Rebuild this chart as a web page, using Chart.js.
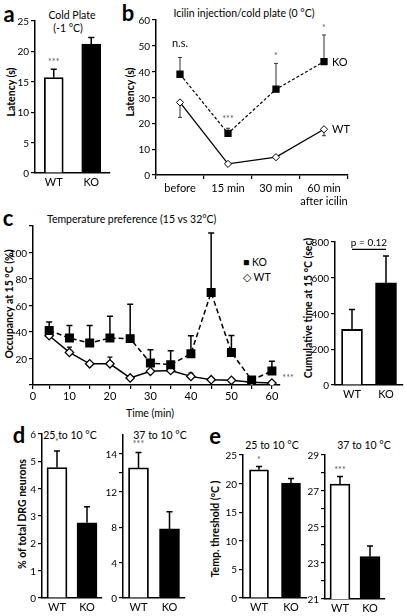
<!DOCTYPE html>
<html>
<head>
<meta charset="utf-8">
<script src="https://cdn.jsdelivr.net/npm/chart.js@4.4.0/dist/chart.umd.min.js"></script>
<style>
  html, body { margin: 0; padding: 0; background: #fff; }
  #fig { position: relative; width: 407px; height: 616px; overflow: hidden; font-family: Lato, "Open Sans", sans-serif; color: #000; }
  #fig canvas { position: absolute; }
  .t { position: absolute; transform: translate(-50%, -50%); white-space: nowrap; font-size: 10.5px; line-height: 1; }
  .left { transform: translate(0, -50%); }
  .rot { transform: translate(-50%, -50%) rotate(-90deg); font-weight: bold; font-size: 10.5px; }
  .letter { font-size: 22px; font-weight: bold; }
  .tick { position: absolute; transform: translate(-100%, -50%); white-space: nowrap; font-size: 10px; line-height: 1; }
</style>
</head>
<body>
<div id="fig"></div>
<script>
const groups = ["WT", "KO"];

// a: cold plate (-1 °C), latency (s)
const coldPlate = [15.7, 21.2];
const coldPlateErr = [1.35, 1.1];

// b: icilin injection / cold plate (0 °C), latency (s)
const icilinTimes = ["before", "15 min", "30 min", ["60 min", "after icilin"]];
const icilinKO = [39, 16.1, 33.2, 43.9];
const icilinKOErr = [6.5, 2, 10, 10.3];
const icilinWT = [28.1, 4.3, 6.9, 17.7];
const icilinWTErr = [5.8, 0, 0, 2.5];

// c: temperature preference (15 vs 32 °C), occupancy at 15 °C (%)
const prefTimes = [5, 10, 15, 20, 25, 30, 35, 40, 45, 50, 55, 60];
const prefKO = [41.2, 35.4, 31.7, 35.4, 35, 16.6, 15.3, 23.6, 69.8, 24.6, 3.8, 10.5];
const prefKOErr = [6.3, 9.6, 13.3, 16.4, 26, 10, 10.6, 13.6, 45, 12.8, 0, 7.5];
const prefWT = [37.2, 24.6, 16, 16, 5.3, 10.3, 11, 6.5, 4, 3.5, 2, 1.5];
const prefWTErr = [0, 4, 0, 5, 0, 0, 1.8, 2.5, 0, 0, 0, 0];
const cumTime = [311, 571];
const cumTimeErr = [111, 151];

// d: % of total DRG neurons
const drg25 = [4.77, 2.75];
const drg25Err = [0.61, 0.59];
const drg37 = [13.26, 7.8];
const drg37Err = [0.81, 1.95];

// e: temperature threshold (°C)
const thr25 = [22.4, 20.05];
const thr25Err = [0.6, 0.85];
const thr37 = [27.39, 23.35];
const thr37Err = [0.41, 0.59];

const FONT = "Lato, 'Open Sans', sans-serif";
const fig = document.getElementById("fig");

// panel letters, titles, axis titles, legend of c
const texts = [
  ["a", 9, 14, "letter"],
  ["Cold Plate", 72, 15, ""],
  ["(-1 °C)", 68, 28, ""],
  ["Latency (s)", 11, 92, "rot"],
  ["b", 128, 13, "letter"],
  ["Icilin injection/cold plate (0 °C)", 244, 13, ""],
  ["Latency (s)", 130, 92, "rot"],
  ["c", 8, 218, "letter"],
  ["Temperature preference (15 vs 32°C)", 47, 219, "left"],
  ["Occupancy at 15 °C (%)", 9, 304, "rot"],
  ["Time (min)", 150, 413, ""],
  ["Cumulative time at 15 °C (sec)", 308, 308, "rot"],
  ["■ KO", 243, 262, "left"],
  ["◇ WT", 243, 277, "left"],
  ["d", 19, 435, "letter"],
  ["25 to 10 °C", 70, 435, ""],
  ["37 to 10 °C", 160, 435, ""],
  ["% of total DRG neurons", 22, 514, "rot"],
  ["e", 215, 436, "letter"],
  ["25 to 10 °C", 272, 445, ""],
  ["37 to 10 °C", 364, 445, ""],
  ["Temp. threshold (°C )", 215, 529, "rot"],
];
texts.forEach(([text, x, y, cls]) => {
  const el = document.createElement("div");
  el.className = "t " + cls;
  el.textContent = text;
  el.style.left = x + "px";
  el.style.top = y + "px";
  fig.appendChild(el);
});

// y axis of panel d (right) is stretched above 12
class BrokenScale extends Chart.LinearScale {
  toDecimal(v) {
    const { breakAt, lowerShare } = this.options;
    if (v <= breakAt) return ((v - this.min) / (breakAt - this.min)) * lowerShare;
    return lowerShare + ((v - breakAt) / (this.max - breakAt)) * (1 - lowerShare);
  }
  getPixelForValue(v) {
    return v === null ? NaN : this.getPixelForDecimal(this.toDecimal(v));
  }
  getValueForPixel(p) {
    const d = this.getDecimalForPixel(p);
    const { breakAt, lowerShare } = this.options;
    return d <= lowerShare
      ? this.min + (d / lowerShare) * (breakAt - this.min)
      : breakAt + ((d - lowerShare) / (1 - lowerShare)) * (this.max - breakAt);
  }
}
BrokenScale.id = "broken";
BrokenScale.defaults = { ...Chart.LinearScale.defaults };
Chart.register(BrokenScale);

// error bars, drawn under the marks
const errorBars = {
  id: "errorBars",
  beforeDatasetsDraw(chart, args, opts) {
    const ctx = chart.ctx;
    const y = chart.scales.y;
    ctx.save();
    (opts.sets || []).forEach((set) => {
      const meta = chart.getDatasetMeta(set.dataset);
      const values = chart.data.datasets[set.dataset].data;
      meta.data.forEach((el, i) => {
        const v = values[i];
        const e = set.err[i];
        if (!e) return;
        const end = y.getPixelForValue(set.down ? v - e : v + e);
        ctx.strokeStyle = set.color || "#000";
        ctx.lineWidth = set.width || 1.5;
        ctx.beginPath();
        ctx.moveTo(el.x, el.y);
        ctx.lineTo(el.x, end);
        ctx.moveTo(el.x - set.cap, end);
        ctx.lineTo(el.x + set.cap, end);
        ctx.stroke();
      });
    });
    ctx.restore();
  },
};

// significance marks and labels placed in data units
const notes = {
  id: "notes",
  afterDatasetsDraw(chart, args, opts) {
    const ctx = chart.ctx;
    const xs = chart.scales.x;
    const ys = chart.scales.y;
    ctx.save();
    (opts.items || []).forEach((n) => {
      const px = xs.getPixelForValue(n.x) + (n.dx || 0);
      const py = ys.getPixelForValue(n.y);
      if (n.to !== undefined) {
        ctx.strokeStyle = "#000";
        ctx.lineWidth = 1.2;
        ctx.beginPath();
        ctx.moveTo(px, py);
        ctx.lineTo(xs.getPixelForValue(n.to), py);
        ctx.stroke();
        return;
      }
      ctx.font = n.font || "11px " + FONT;
      ctx.fillStyle = n.color || "#000";
      ctx.textAlign = n.align || "center";
      ctx.textBaseline = "middle";
      ctx.fillText(n.text, px, py);
    });
    ctx.restore();
  },
};

const stars = (text, x, y) => ({ text, x, y, font: "9px " + FONT, color: "#555" });

function place(left, top, width, height) {
  const c = document.createElement("canvas");
  c.width = width;
  c.height = height;
  c.style.left = left + "px";
  c.style.top = top + "px";
  c.style.width = width + "px";
  c.style.height = height + "px";
  fig.appendChild(c);
  return c;
}

// y tick labels as page text, placed at the scale's own tick positions
function addYLabels(chart) {
  const s = chart.scales.y;
  const fmt = s.options.ticks.callback;
  const left = chart.canvas.offsetLeft;
  const top = chart.canvas.offsetTop;
  s.ticks.forEach((t, i) => {
    const label = fmt.call(s, t.value, i, s.ticks);
    if (label === "" || label == null) return;
    const el = document.createElement("div");
    el.className = "tick";
    el.textContent = label;
    el.style.left = left + s.right - 6 + "px";
    el.style.top = top + s.getPixelForTick(i) + "px";
    fig.appendChild(el);
  });
  return chart;
}

function yScale(width, o) {
  const s = {
    type: o.type || "linear",
    min: o.min,
    max: o.max,
    afterFit: (sc) => { sc.width = width; },
    border: { color: "#000", width: 1.5 },
    grid: { drawOnChartArea: false, color: "#000", lineWidth: 1.2, tickLength: 4 },
    ticks: { display: false, autoSkip: false, callback: o.label || ((v) => v) },
  };
  if (o.step) s.ticks.stepSize = o.step;
  if (o.ticks) s.afterBuildTicks = (sc) => { sc.ticks = o.ticks.map((v) => ({ value: v })); };
  if (o.breakAt) { s.breakAt = o.breakAt; s.lowerShare = o.lowerShare; }
  return s;
}

function catScale(height, withTicks) {
  return {
    offset: true,
    afterFit: (s) => { s.height = height; },
    border: { color: "#000", width: 1.5 },
    grid: { drawOnChartArea: false, drawTicks: !!withTicks, offset: true, color: "#000", lineWidth: 1.2, tickLength: 4 },
    ticks: { color: "#000", font: { family: FONT, size: 11 }, padding: 3, maxRotation: 0, autoSkip: false },
  };
}

function barPanel(canvas, p) {
  return addYLabels(new Chart(canvas, {
    type: "bar",
    data: {
      labels: groups,
      datasets: [{
        data: p.values,
        backgroundColor: ["#fff", "#000"],
        borderColor: "#000",
        borderWidth: 1.8,
        barThickness: p.bar,
      }],
    },
    options: {
      responsive: false,
      animation: false,
      layout: { padding: { top: p.top, right: p.right } },
      plugins: {
        legend: { display: false },
        tooltip: { enabled: false },
        errorBars: { sets: [{ dataset: 0, err: p.errs, cap: 3, width: 1.5 }] },
        notes: { items: p.notes || [] },
      },
      scales: { x: catScale(p.xh), y: yScale(p.yw, p.y) },
    },
    plugins: [errorBars, notes],
  }));
}

// a
barPanel(place(0, 0, 115, 195), {
  values: coldPlate, errs: coldPlateErr, bar: 19, top: 21, right: 5, xh: 22, yw: 35,
  y: { min: 0, max: 25, step: 5 },
  notes: [stars("***", 0, 18.3)],
});

// b
addYLabels(new Chart(place(120, 0, 287, 205), {
  type: "line",
  data: {
    labels: icilinTimes,
    datasets: [
      {
        label: "KO", data: icilinKO, borderColor: "#000", borderWidth: 1.2, borderDash: [3, 2],
        pointStyle: "rect", pointRadius: 4.3, pointBackgroundColor: "#000", pointBorderColor: "#000",
      },
      {
        label: "WT", data: icilinWT, borderColor: "#000", borderWidth: 1.3,
        pointStyle: "rectRot", pointRadius: 3.6, pointBackgroundColor: "#fff", pointBorderColor: "#000", pointBorderWidth: 1,
      },
    ],
  },
  options: {
    responsive: false,
    animation: false,
    layout: { padding: { top: 20, right: 59 } },
    plugins: {
      legend: { display: false },
      tooltip: { enabled: false },
      errorBars: {
        sets: [
          { dataset: 0, err: icilinKOErr, cap: 2, width: 1, color: "#333" },
          { dataset: 1, err: icilinWTErr, cap: 2, width: 1, color: "#333", down: true },
        ],
      },
      notes: {
        items: [
          { text: "n.s.", x: 0, y: 51 },
          stars("***", 1, 21.5),
          stars("*", 2, 46),
          stars("*", 3, 57),
          { text: "KO", x: 3, y: 43.5, dx: 8, align: "left" },
          { text: "WT", x: 3, y: 17.8, dx: 8, align: "left" },
        ],
      },
    },
    scales: { x: catScale(30, true), y: yScale(36, { min: 0, max: 60, step: 10 }) },
  },
  plugins: [errorBars, notes],
}));

// c (time course)
addYLabels(new Chart(place(0, 205, 300, 215), {
  type: "line",
  data: {
    labels: prefTimes,
    datasets: [
      {
        label: "KO", data: prefKO, borderColor: "#000", borderWidth: 1.5, borderDash: [5, 3],
        pointStyle: "rect", pointRadius: 5.3, pointBackgroundColor: "#000", pointBorderColor: "#000",
      },
      {
        label: "WT", data: prefWT, borderColor: "#000", borderWidth: 1.5,
        pointStyle: "rectRot", pointRadius: 4.2, pointBackgroundColor: "#fff", pointBorderColor: "#000", pointBorderWidth: 1.3,
      },
    ],
  },
  options: {
    responsive: false,
    animation: false,
    layout: { padding: { top: 21, right: 20 } },
    plugins: {
      legend: { display: false },
      tooltip: { enabled: false },
      errorBars: {
        sets: [
          { dataset: 0, err: prefKOErr, cap: 3, width: 1.5 },
          { dataset: 1, err: prefWTErr, cap: 2.5, width: 1.2 },
        ],
      },
      notes: { items: [stars("***", 64, 5.5)] },
    },
    scales: {
      x: {
        type: "linear",
        min: 1,
        max: 62,
        afterFit: (s) => { s.height = 35; },
        afterBuildTicks: (s) => { s.ticks = [1, ...prefTimes].map((v) => ({ value: v })); },
        border: { color: "#000", width: 1.5 },
        grid: { drawOnChartArea: false, color: "#000", lineWidth: 1.2, tickLength: 4 },
        ticks: {
          color: "#000", font: { family: FONT, size: 11 }, padding: 1, maxRotation: 0, autoSkip: false,
          callback: (v) => (v === 1 ? "0" : v % 10 === 0 ? v : ""),
        },
      },
      y: yScale(33, { min: 0, max: 120, step: 20, label: (v) => (v === 0 || v === 120 ? "" : v) }),
    },
  },
  plugins: [errorBars, notes],
}));

// c (cumulative time)
barPanel(place(300, 205, 107, 200), {
  values: cumTime, errs: cumTimeErr, bar: 21, top: 37, right: 4, xh: 20, yw: 35,
  y: { min: 0, max: 800, step: 200 },
  notes: [
    { x: 0, to: 1, y: 759 },
    { text: "p = 0.12", x: 0.5, y: 796, font: "10px " + FONT },
  ],
});

// d
barPanel(place(0, 415, 105, 201), {
  values: drg25, errs: drg25Err, bar: 20, top: 19, right: 3, xh: 18, yw: 42,
  y: { min: 0, max: 6, step: 1 },
  notes: [stars("*", 0, 5.7)],
});
barPanel(place(100, 415, 90, 201), {
  values: drg37, errs: drg37Err, bar: 20, top: 20, right: 5, xh: 18, yw: 23,
  y: {
    type: "broken", min: 0, max: 15, breakAt: 12, lowerShare: 0.652,
    ticks: [0, 4, 8, 12, 13, 14], label: (v) => (v === 13 ? "" : v),
  },
  notes: [stars("***", 0, 14.5)],
});

// e
barPanel(place(200, 415, 110, 201), {
  values: thr25, errs: thr25Err, bar: 19, top: 40, right: 3, xh: 18, yw: 43,
  y: { min: 0, max: 25, step: 5 },
  notes: [stars("*", 0, 24.1)],
});
barPanel(place(300, 415, 100, 201), {
  values: thr37, errs: thr37Err, bar: 20, top: 40, right: 15, xh: 17, yw: 25,
  y: { min: 21, max: 29, step: 1, label: (v) => (v % 2 ? v : "") },
  notes: [stars("***", 0, 28.15)],
});
</script>
</body>
</html>
